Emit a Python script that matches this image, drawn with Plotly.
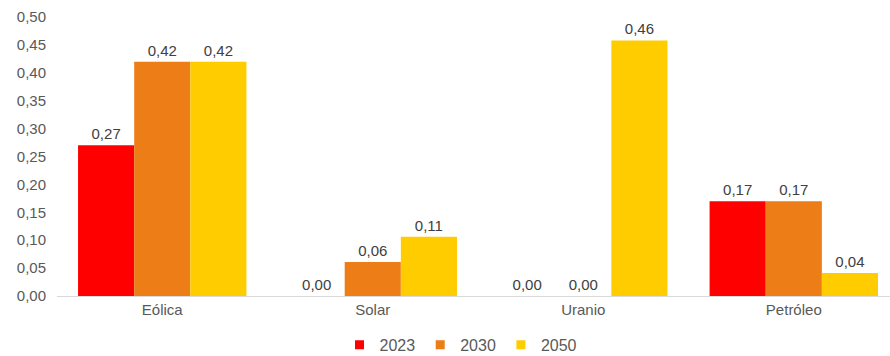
import plotly.graph_objects as go

categories = ["Eólica", "Solar", "Uranio", "Petróleo"]
years = ["2023", "2030", "2050"]
values_2023 = [0.27, 0.00, 0.00, 0.17]
values_2030 = [0.42, 0.061, 0.00, 0.17]
values_2050 = [0.42, 0.106, 0.458, 0.041]
colors = ["#FF0000", "#ED7D16", "#FFCC00"]

fig = go.Figure()
for name, vals, col in zip(years, [values_2023, values_2030, values_2050], colors):
    fig.add_trace(go.Bar(
        x=categories, y=vals, name=name, showlegend=False,
        marker=dict(color=col, line=dict(width=0)),
        texttemplate="%{y:.2f}", textposition="outside",
        textfont=dict(size=15, color="#404040"),
        cliponaxis=False,
    ))
# small square keys for the legend
for name, col in zip(years, colors):
    fig.add_trace(go.Scatter(
        x=[None], y=[None], mode="markers", name=name,
        marker=dict(symbol="square", size=9, color=col),
    ))

fig.update_layout(
    width=890, height=356,
    margin=dict(l=57, r=0, t=17, b=60, autoexpand=False),
    paper_bgcolor="white", plot_bgcolor="white",
    barmode="group", bargap=0.2, bargroupgap=0,
    separators=",.",
    font=dict(family="Liberation Sans, Arial, sans-serif", size=15, color="#595959"),
    showlegend=True,
    legend=dict(orientation="h", x=0.485, xanchor="center",
                yref="container", y=0.031, yanchor="middle",
                font=dict(size=16, color="#595959"), itemwidth=30,
                traceorder="normal"),
)
fig.update_yaxes(range=[0, 0.5], dtick=0.05, tickformat=".2f", showgrid=False,
                 zeroline=False, showline=False, ticks="", ticklabelstandoff=10,
                 tickfont=dict(size=15, color="#595959"))
fig.update_xaxes(range=[-0.5, 3.457], showline=True, linecolor="#D9D9D9",
                 linewidth=1, ticks="", showgrid=False,
                 tickfont=dict(size=15, color="#595959"))

fig.write_html("out.html")
